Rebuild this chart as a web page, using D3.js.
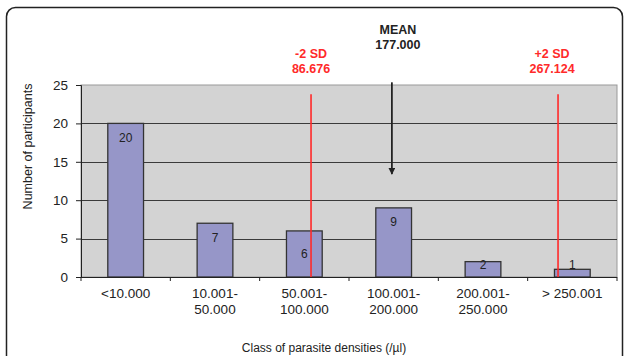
<!DOCTYPE html>
<html>
<head>
<meta charset="utf-8">
<script src="https://cdn.jsdelivr.net/npm/d3@7"></script>
<style>
  html, body { margin: 0; padding: 0; background: #fff; }
  svg { display: block; font-family: "Liberation Sans", Arial, sans-serif; }
</style>
</head>
<body>
<svg id="chart" width="624" height="356"></svg>
<script>
// Parasite density classes and participant counts
const categories = ["<10.000", "10.001-50.000", "50.001-100.000", "100.001-200.000", "200.001-250.000", "> 250.001"];
const counts = [20, 7, 6, 9, 2, 1];
const yTicks = [0, 5, 10, 15, 20, 25];

// Reference markers: label, value text, position along the class axis (in class slots)
const markerNames = ["-2 SD", "MEAN", "+2 SD"];
const markerValues = ["86.676", "177.000", "267.124"];
const markerSlots = [2.575, 3.48, 5.34];
const markerKinds = ["sd", "mean", "sd"];

const svg = d3.select("#chart");
const margin = { left: 81, right: 617, top: 85, bottom: 277 };

// outer chart frame
svg.append("rect")
  .attr("x", 6.5).attr("y", 7.5)
  .attr("width", 616).attr("height", 420)
  .attr("rx", 9)
  .attr("fill", "#fff").attr("stroke", "#222").attr("stroke-width", 1.5);

const x = d3.scaleBand().domain(categories)
  .range([margin.left, margin.right])
  .paddingInner(0.6).paddingOuter(0.3);
const slot = d3.scaleLinear().domain([0, categories.length]).range([margin.left, margin.right]);
const y = d3.scaleLinear().domain([0, 25]).range([margin.bottom, margin.top]);

// plot background
svg.append("rect")
  .attr("x", margin.left).attr("y", margin.top)
  .attr("width", margin.right - margin.left).attr("height", margin.bottom - margin.top)
  .attr("fill", "#d3d3d3").attr("stroke", "#999").attr("stroke-width", 1);

// horizontal gridlines
svg.append("g").selectAll("line")
  .data(yTicks.filter(d => d > 0 && d < 25))
  .join("line")
  .attr("x1", margin.left).attr("x2", margin.right)
  .attr("y1", d => Math.round(y(d)) + 0.5).attr("y2", d => Math.round(y(d)) + 0.5)
  .attr("stroke", "#3a3a3a").attr("stroke-width", 1);

// bars
svg.append("g").selectAll("rect")
  .data(counts)
  .join("rect")
  .attr("x", (d, i) => x(categories[i]))
  .attr("y", d => y(d))
  .attr("width", x.bandwidth())
  .attr("height", d => y(0) - y(d))
  .attr("fill", "#9696c8").attr("stroke", "#333").attr("stroke-width", 1.3);

// SD lines
markerSlots.forEach((s, i) => {
  if (markerKinds[i] !== "sd") return;
  svg.append("line")
    .attr("x1", slot(s)).attr("x2", slot(s))
    .attr("y1", y(23.8)).attr("y2", y(0))
    .attr("stroke", "#ff2a2a").attr("stroke-width", 1.6);
});

// value labels on bars (moved to the bar middle where an SD line crosses it)
const crossed = (i) => markerSlots.some((s, k) => markerKinds[k] === "sd" &&
  slot(s) > x(categories[i]) && slot(s) < x(categories[i]) + x.bandwidth());
svg.append("g").selectAll("text")
  .data(counts)
  .join("text")
  .attr("x", (d, i) => x(categories[i]) + x.bandwidth() / 2)
  .attr("y", (d, i) => {
    const top = y(d), bottom = y(0);
    const c = Math.min(crossed(i) ? (top + bottom) / 2 : top + 14, bottom - 13);
    return c + 4.5;
  })
  .attr("text-anchor", "middle")
  .attr("font-size", 12).attr("fill", "#222")
  .text(d => d);

// mean arrow
svg.append("defs").append("marker")
  .attr("id", "arrow").attr("viewBox", "0 0 10 10")
  .attr("refX", 9).attr("refY", 5)
  .attr("markerWidth", 4).attr("markerHeight", 4)
  .attr("markerUnits", "strokeWidth")
  .attr("orient", "auto")
  .append("path").attr("d", "M0,0 L10,5 L0,10 Z").attr("fill", "#222");
markerSlots.forEach((s, i) => {
  if (markerKinds[i] !== "mean") return;
  svg.append("line")
    .attr("x1", slot(s)).attr("x2", slot(s))
    .attr("y1", y(25.35)).attr("y2", y(13.4))
    .attr("stroke", "#222").attr("stroke-width", 1.8)
    .attr("marker-end", "url(#arrow)");
});

// marker captions
markerSlots.forEach((s, i) => {
  const isMean = markerKinds[i] === "mean";
  const cx = slot(s) + (isMean ? 6 : (i === 2 ? -6 : 0));
  const y0 = isMean ? 33.5 : 58;
  const g = svg.append("g")
    .attr("font-size", 12.5).attr("font-weight", "bold")
    .attr("fill", isMean ? "#222" : "#ff2a2a")
    .attr("text-anchor", "middle");
  g.append("text").attr("x", cx).attr("y", y0).text(markerNames[i]);
  g.append("text").attr("x", cx).attr("y", y0 + 15).text(markerValues[i]);
});

// y axis
const yAxis = svg.append("g")
  .attr("transform", `translate(${margin.left},0)`)
  .call(d3.axisLeft(y).tickValues(yTicks).tickSize(5).tickPadding(8).tickFormat(d3.format("d")));
yAxis.select(".domain").attr("stroke", "#222");
yAxis.selectAll(".tick line").attr("stroke", "#222");
yAxis.selectAll("text").attr("font-size", 13.5).attr("fill", "#222")
  .attr("font-family", "'Liberation Sans', Arial, sans-serif");

// x axis: ticks at class boundaries
const xAxis = svg.append("g").attr("transform", `translate(0,${margin.bottom})`);
xAxis.append("line")
  .attr("x1", margin.left).attr("x2", margin.right)
  .attr("y1", 0.5).attr("y2", 0.5)
  .attr("stroke", "#222").attr("stroke-width", 1);
xAxis.selectAll("line.tk")
  .data(d3.range(categories.length + 1))
  .join("line").attr("class", "tk")
  .attr("x1", d => slot(d)).attr("x2", d => slot(d))
  .attr("y1", 0).attr("y2", 4)
  .attr("stroke", "#222");
xAxis.selectAll("text")
  .data(categories)
  .join("text")
  .attr("x", d => x(d) + x.bandwidth() / 2)
  .attr("y", 21)
  .attr("text-anchor", "middle")
  .attr("font-size", 13.5).attr("fill", "#222")
  .each(function (d) {
    const parts = d.includes("-") ? [d.slice(0, d.indexOf("-") + 1), d.slice(d.indexOf("-") + 1)] : [d];
    parts.forEach((p, k) => {
      d3.select(this).append("tspan")
        .attr("x", x(d) + x.bandwidth() / 2)
        .attr("dy", k === 0 ? 0 : 16)
        .text(p);
    });
  });

// axis titles
svg.append("text")
  .attr("x", 324).attr("y", 352)
  .attr("text-anchor", "middle").attr("font-size", 12).attr("fill", "#222")
  .text("Class of parasite densities (/µl)");
svg.append("text")
  .attr("transform", "translate(32,146.5) rotate(-90)")
  .attr("text-anchor", "middle").attr("font-size", 12.5).attr("fill", "#222")
  .text("Number of participants");
</script>
</body>
</html>
